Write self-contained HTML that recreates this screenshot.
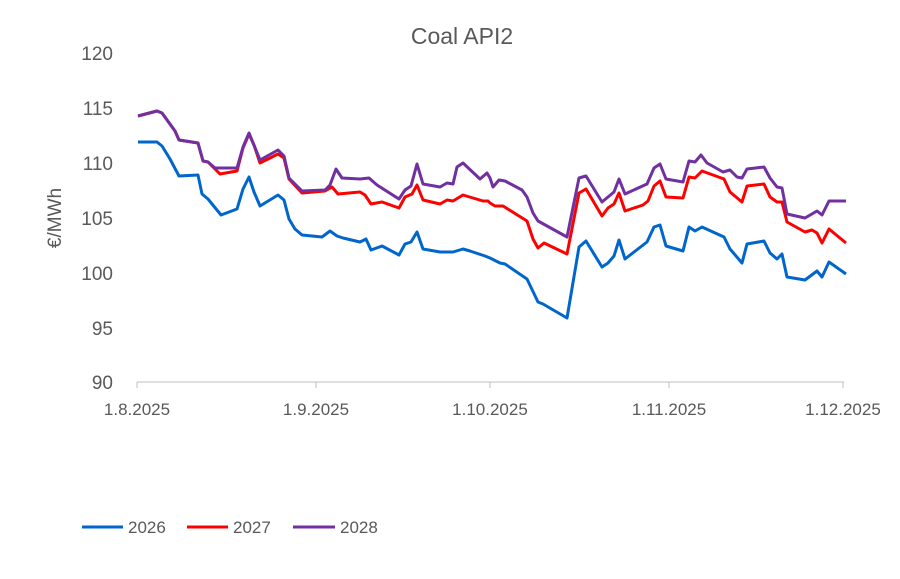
<!DOCTYPE html>
<html><head><style>
body{margin:0;background:#fff}
svg text{font-family:"Liberation Sans",sans-serif;fill:#595959}
</style></head><body>
<svg width="900" height="574" viewBox="0 0 900 574" xmlns="http://www.w3.org/2000/svg">
<rect width="900" height="574" fill="#fff"/>
<text x="462" y="44" font-size="23" text-anchor="middle">Coal API2</text>
<g font-size="19" text-anchor="end">
<text x="113" y="60">120</text>
<text x="113" y="115">115</text>
<text x="113" y="170">110</text>
<text x="113" y="225">105</text>
<text x="113" y="280">100</text>
<text x="113" y="335">95</text>
<text x="113" y="389">90</text>
</g>
<text transform="translate(61,218) rotate(-90)" font-size="19" text-anchor="middle">€/MWh</text>
<line x1="137" y1="382" x2="844" y2="382" stroke="#bfbfbf" stroke-width="1"/>
<g stroke="#bfbfbf" stroke-width="1">
<line x1="137" y1="382" x2="137" y2="388"/>
<line x1="316" y1="382" x2="316" y2="388"/>
<line x1="490" y1="382" x2="490" y2="388"/>
<line x1="669" y1="382" x2="669" y2="388"/>
<line x1="843" y1="382" x2="843" y2="388"/>
</g>
<g font-size="17" text-anchor="middle">
<text x="137" y="415">1.8.2025</text>
<text x="316" y="415">1.9.2025</text>
<text x="490" y="415">1.10.2025</text>
<text x="669" y="415">1.11.2025</text>
<text x="843" y="415">1.12.2025</text>
</g>
<g fill="none" stroke-width="3" stroke-linejoin="round">
<polyline stroke="#0066cc" points="138,142 157,142 162,146 170,159 179,176 198,175 202,194 208,199 221,215 237,209 243,189 249,177 254,192 260,206 278,195 284,200 289,219 295,229 302,235 322,237 330,231 337,236 343,238 360,242 366,239 371,250 382,246 399,255 405,244 411,242 417,232 423,249 440,252 453,252 463,249 470,251 485,256 490,258 500,263 505,264 527,279 538,302 543,304 567,318 579,247 586,241 602,267 608,263 614,256 619,240 625,259 647,242 654,227 660,225 666,246 683,251 689,227 695,231 702,227 724,237 730,249 742,263 747,244 764,241 770,253 777,259 782,254 787,277 805,280 817,271 822,277 829,262 846,274"/>
<polyline stroke="#ff0000" points="138,116 157,111 162,113 175,131 179,140 198,143 203,161 208,162 220,174 237,171 243,148 249,134 254,145 260,163 278,154 284,158 289,179 302,193 325,191 332,187 338,194 360,192 365,195 371,204 382,202 399,208 405,197 412,194 417,185 423,200 440,204 447,200 453,201 463,195 483,201 488,201 490,203 495,206 503,206 527,221 533,239 538,248 544,243 567,254 579,193 586,189 602,216 608,208 614,204 619,193 625,211 643,205 648,201 654,186 660,181 666,197 683,198 689,177 695,178 702,171 724,179 730,192 742,202 747,186 764,184 770,197 777,202 782,202 787,222 805,232 812,230 817,233 822,243 829,229 846,243"/>
<polyline stroke="#7030a0" points="138,116 157,111 162,113 175,131 179,140 198,143 203,161 208,162 215,168 237,168 243,147 249,133 260,160 278,150 284,156 289,178 302,191 325,190 330,185 336,169 342,178 360,179 369,178 377,185 399,199 405,190 411,186 417,164 423,184 440,187 447,183 453,184 457,167 463,163 480,179 487,173 490,178 493,187 499,180 505,181 522,190 527,197 533,213 538,221 567,237 579,178 586,176 602,202 608,197 614,192 619,179 625,194 647,184 654,168 660,164 666,179 683,182 689,161 695,162 701,155 707,163 723,172 730,170 737,177 742,178 747,169 764,167 770,178 777,187 782,188 787,214 805,218 817,211 822,215 829,201 846,201"/>
</g>
<g stroke-width="3">
<line x1="82" y1="527" x2="123" y2="527" stroke="#0066cc"/>
<line x1="187" y1="527" x2="228" y2="527" stroke="#ff0000"/>
<line x1="293" y1="527" x2="335" y2="527" stroke="#7030a0"/>
</g>
<g font-size="17">
<text x="128" y="533">2026</text>
<text x="233" y="533">2027</text>
<text x="340" y="533">2028</text>
</g>
</svg>
</body></html>
